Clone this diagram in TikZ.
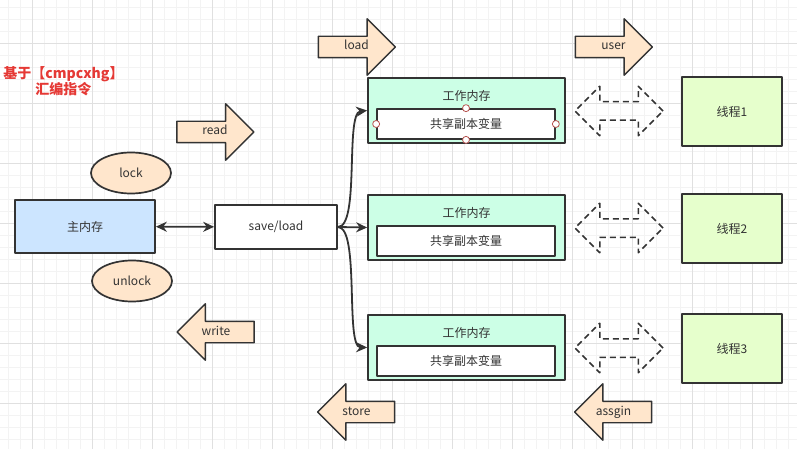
\documentclass[tikz,border=0pt]{standalone}
\usepackage{fontspec}
\setmainfont{Noto Sans CJK SC}
\usetikzlibrary{shapes,shapes.arrows,arrows.meta}

\definecolor{linecol}{HTML}{333333}
\definecolor{peach}{HTML}{FFE6CC}
\definecolor{mainblue}{HTML}{CCE5FF}
\definecolor{mint}{HTML}{CCFFE6}
\definecolor{lime}{HTML}{E6FFCC}
\definecolor{notered}{HTML}{E53935}
\definecolor{gridminor}{HTML}{F3F3F3}
\definecolor{gridmajor}{HTML}{E0E0E0}
\definecolor{handle}{HTML}{B85450}

\tikzset{
  lbl/.style={text=linecol, font=\fontsize{12}{14}\selectfont},
  membox/.style={lbl, draw=linecol, line width=1.7pt, rectangle},
  opnode/.style={lbl, ellipse, draw=linecol, fill=peach, line width=1.7pt,
    minimum width=80pt, minimum height=41pt},
  fatarrow/.style={lbl, single arrow, draw=linecol, fill=peach, line width=1.4pt,
    minimum height=77pt, minimum width=55pt, single arrow head extend=17.5pt,
    single arrow tip angle=90, text height=8pt, text depth=2pt,
    inner ysep=5pt, inner xsep=2pt},
  toright/.style={fatarrow, execute at begin node={\hspace*{10pt}}},
  toleft/.style={fatarrow, shape border rotate=180, execute at end node={\hspace*{10pt}}},
  syncarrow/.style={double arrow, draw=linecol, line width=1.5pt,
    dash pattern=on 6pt off 4pt, minimum height=88pt, minimum width=48pt,
    double arrow head extend=15.5pt, double arrow tip angle=90,
    inner ysep=8.5pt, inner xsep=0pt, text height=0pt, text depth=0pt},
  conn/.style={draw=linecol, line width=1.8pt, -{Stealth[length=11pt,width=10pt]}},
  handledot/.style={circle, draw=handle, fill=white, line width=0.8pt,
    inner sep=0pt, minimum size=7pt}
}

\begin{document}
\begin{tikzpicture}[x=1pt, y=-1pt, line join=round]
  \useasboundingbox (0,0) rectangle (797,449);
  % grid
  \foreach \gx in {8,20,...,797} \draw[gridminor, line width=0.6pt] (\gx,0) -- (\gx,449);
  \foreach \gy in {7,19,...,449} \draw[gridminor, line width=0.6pt] (0,\gy) -- (797,\gy);
  \foreach \gx in {32,92,...,797} \draw[gridmajor, line width=0.6pt] (\gx,0) -- (\gx,449);
  \foreach \gy in {43,103,...,449} \draw[gridmajor, line width=0.6pt] (0,\gy) -- (797,\gy);

  % note
  \node[text=notered, font=\fontsize{14}{16}\selectfont\bfseries, align=center] (note) at (63.5,81)
    {基于【cmpcxhg】\\汇编指令};

  % main memory side
  \node[membox, fill=mainblue, minimum width=140pt, minimum height=53pt] (mainmem) at (85,226.5) {主内存};
  \node[opnode] (lock) at (131,173) {lock};
  \node[opnode] (unlock) at (132,281) {unlock};
  \node[membox, fill=white, minimum width=122pt, minimum height=44pt] (saveload) at (276,227) {save/load};
  \draw[conn, {Stealth[length=11pt,width=10pt]}-{Stealth[length=11pt,width=10pt]}] (mainmem) -- (saveload);

  \node[toright] (read) at (210,132) {read};
  \node[toleft] (write) at (221,332) {write};

  % working memories
  \foreach \i/\wy in {1/110.5, 2/227.5, 3/347.5} {
    \node[membox, fill=mint, minimum width=197pt, minimum height=65pt] (wm\i) at (466.5,\wy) {};
    \node[lbl] (wmtitle\i) at (466.5,\wy-14.5) {工作内存};
    \node[membox, fill=white, minimum width=178pt, minimum height=30pt] (copy\i) at (466,\wy+13.5) {共享副本变量};
    \node[syncarrow] (sync\i) at (619,\wy+0.5) {};
    \node[membox, fill=lime, minimum width=100pt, minimum height=69pt] (thread\i) at (732,\wy+1) {线程\i};
  }
  \foreach \side in {north,south,east,west}
    \node[handledot] at (copy1.\side) {};

  \draw[conn] (saveload.east) .. controls (360,227) and (345,113) .. (wm1.west);
  \draw[conn] (saveload.east) -- (wm2.west);
  \draw[conn] (saveload.east) .. controls (360,227) and (345,347) .. (wm3.west);

  \node[toright] (load) at (351.5,47) {load};
  \node[toright] (user) at (608.5,47) {user};
  \node[toleft] (store) at (361.5,412) {store};
  \node[toleft] (assgin) at (618.5,412) {assgin};
\end{tikzpicture}
\end{document}
